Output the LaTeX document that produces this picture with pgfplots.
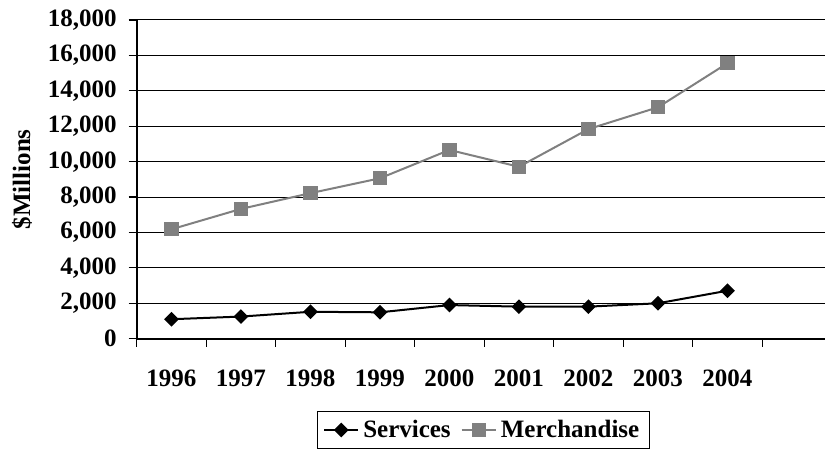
\documentclass[border=0pt]{standalone}
\usepackage{pgfplots}
\pgfplotsset{compat=1.18}
\usepackage{fontspec}
\setmainfont{Liberation Serif}
\definecolor{mgray}{RGB}{128,128,128}
\begin{document}
\begin{tikzpicture}
\begin{axis}[
  at={(0,0)}, anchor=south west,
  scale only axis,
  width=344.15pt, height=159.35pt,
  xmin=-0.5, xmax=9.403,
  ymin=0, ymax=18000,
  axis lines=left,
  axis line style={-, line width=1pt, black},
  xtick={-0.5,0.5,...,8.5},
  x tick label as interval,
  xticklabels={1996,1997,1998,1999,2000,2001,2002,2003,2004},
  ytick={0,2000,...,18000},
  tick align=outside,
  major tick length=4pt,
  tick style={black, line width=0.6pt},
  ymajorgrids,
  grid style={black, line width=0.5pt},
  scaled y ticks=false,
  yticklabel style={/pgf/number format/.cd, fixed, 1000 sep={,}, assume math mode=true, /tikz/xshift=-2.5pt},
  xticklabel style={/pgf/number format/assume math mode=true, yshift=-8pt},
  tick label style={font=\fontsize{12.5pt}{14pt}\selectfont\bfseries},
  ylabel={\$Millions},
  ylabel style={font=\fontsize{12.5pt}{14pt}\selectfont\bfseries, at={(axis description cs:-0.1666,0.5)}, anchor=center},
  legend columns=2,
  legend style={at={(0.5034,-0.2865)}, anchor=center, draw=black, line width=0.5pt,
    font=\fontsize{12.5pt}{14pt}\selectfont\bfseries,
    /tikz/every even column/.append style={column sep=3pt}},
]
\addplot[black, line width=1pt, mark=square*, mark size=2.1pt, mark options={rotate=45, solid}]
 coordinates {(0,1100) (1,1250) (2,1520) (3,1490) (4,1900) (5,1810) (6,1810) (7,2000) (8,2710)};
\addlegendentry{Services}
\addplot[mgray, line width=1pt, mark=square*, mark size=3.1pt, mark options={solid}]
 coordinates {(0,6180) (1,7330) (2,8220) (3,9060) (4,10660) (5,9710) (6,11840) (7,13070) (8,15560)};
\addlegendentry{Merchandise}
\end{axis}
\pgfresetboundingbox
\useasboundingbox (-68.35pt,-55.15pt) rectangle (344.15pt,169.35pt);
\end{tikzpicture}
\end{document}
